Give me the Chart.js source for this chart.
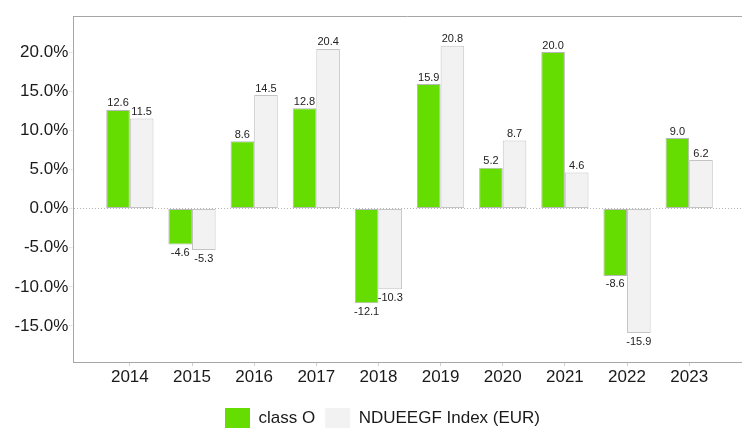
<!DOCTYPE html>
<html>
<head>
<meta charset="utf-8">
<script src="https://cdn.jsdelivr.net/npm/chart.js@4.4.1/dist/chart.umd.min.js"></script>
<style>
    html, body { margin: 0; padding: 0; background: #fff; }
    #wrap { width: 742px; height: 428px; }
</style>
</head>
<body>
<div id="wrap"><canvas id="chart"></canvas></div>
<script>
// calendar years on the x axis
const years = ['2014', '2015', '2016', '2017', '2018', '2019', '2020', '2021', '2022', '2023'];

// yearly returns in %
const classO = [12.6, -4.6, 8.6, 12.8, -12.1, 15.9, 5.2, 20.0, -8.6, 9.0];
const indexEur = [11.5, -5.3, 14.5, 20.4, -10.3, 20.8, 8.7, 4.6, -15.9, 6.2];

const seriesNames = ['class O', 'NDUEEGF Index (EUR)'];
const yTicks = [-15, -10, -5, 0, 5, 10, 15, 20];

const FONT = '"Liberation Sans", Arial, sans-serif';
const AXIS_GREY = '#a6a6a6';

// top frame line, legend nudge
const framePlugin = {
    id: 'frame',
    afterLayout(chart) {
        // legend is centred a bit right of the canvas middle in the original
        if (chart.legend) chart.legend.left += 23;
    },
    afterDraw(chart) {
        const { ctx, chartArea } = chart;
        ctx.save();
        ctx.strokeStyle = AXIS_GREY;
        ctx.lineWidth = 1;
        ctx.beginPath();
        ctx.moveTo(chartArea.left, chartArea.top + 0.5);
        ctx.lineTo(chartArea.right, chartArea.top + 0.5);
        ctx.stroke();
        ctx.restore();
    }
};

const valueLabels = {
    id: 'valueLabels',
    afterDatasetsDraw(chart) {
        const ctx = chart.ctx;
        ctx.save();
        ctx.font = '11px ' + FONT;
        ctx.fillStyle = '#222';
        ctx.textAlign = 'center';
        chart.data.datasets.forEach((ds, di) => {
            chart.getDatasetMeta(di).data.forEach((bar, i) => {
                const v = ds.data[i];
                if (v >= 0) {
                    ctx.textBaseline = 'bottom';
                    ctx.fillText(v.toFixed(1), bar.x, bar.y - 1);
                } else {
                    ctx.textBaseline = 'top';
                    ctx.fillText(v.toFixed(1), bar.x, bar.y + 3);
                }
            });
        });
        ctx.restore();
    }
};

new Chart(document.getElementById('chart'), {
    type: 'bar',
    data: {
        labels: years,
        datasets: [
            {
                label: seriesNames[0],
                data: classO,
                backgroundColor: '#66dd00',
                borderColor: '#b8b8b8',
                borderWidth: 1,
                borderSkipped: false
            },
            {
                label: seriesNames[1],
                data: indexEur,
                backgroundColor: '#f2f2f2',
                borderColor: '#c4c4c4',
                borderWidth: 1,
                borderSkipped: false
            }
        ]
    },
    options: {
        responsive: true,
        maintainAspectRatio: false,
        animation: false,
        devicePixelRatio: 1,
        categoryPercentage: 0.76,
        barPercentage: 1.0,
        layout: { padding: { top: 16, left: 0, right: 0, bottom: -10 } },
        plugins: {
            tooltip: { enabled: false },
            legend: {
                position: 'bottom',
                labels: {
                    boxWidth: 25,
                    boxHeight: 20,
                    padding: 10,
                    color: '#1a1a1a',
                    font: { family: FONT, size: 17 },
                    generateLabels(chart) {
                        return Chart.defaults.plugins.legend.labels.generateLabels(chart)
                            .map(l => ({ ...l, lineWidth: 0, strokeStyle: 'rgba(0,0,0,0)' }));
                    }
                }
            }
        },
        scales: {
            x: {
                type: 'linear',
                offset: false,
                min: 2013.09,
                max: 2023.85,
                afterBuildTicks(scale) {
                    scale.ticks = years.map(y => ({ value: Number(y) }));
                },
                afterFit(scale) { scale.height = 36; },
                grid: {
                    offset: false,
                    color: 'rgba(0,0,0,0)',
                    tickColor: '#cfcfcf',
                    tickLength: 4
                },
                border: { color: AXIS_GREY, width: 1 },
                ticks: {
                    padding: 1,
                    color: '#1a1a1a',
                    font: { family: FONT, size: 17 },
                    maxRotation: 0,
                    callback: v => String(v)
                }
            },
            y: {
                min: -19.6,
                max: 24.6,
                afterBuildTicks(scale) {
                    scale.ticks = yTicks.map(v => ({ value: v }));
                },
                afterFit(scale) { scale.width = 73.3; },
                grid: {
                    color: c => (c.tick && c.tick.value === 0) ? '#b4b4b4' : 'rgba(0,0,0,0)',
                    tickColor: '#cfcfcf',
                    tickLength: 4,
                    tickBorderDash: [1, 1]
                },
                border: { color: AXIS_GREY, width: 1, dash: [1, 2] },
                ticks: {
                    padding: 1,
                    color: '#1a1a1a',
                    font: { family: FONT, size: 17 },
                    callback: v => v.toFixed(1) + '%'
                }
            }
        }
    },
    plugins: [framePlugin, valueLabels]
});
</script>
</body>
</html>
